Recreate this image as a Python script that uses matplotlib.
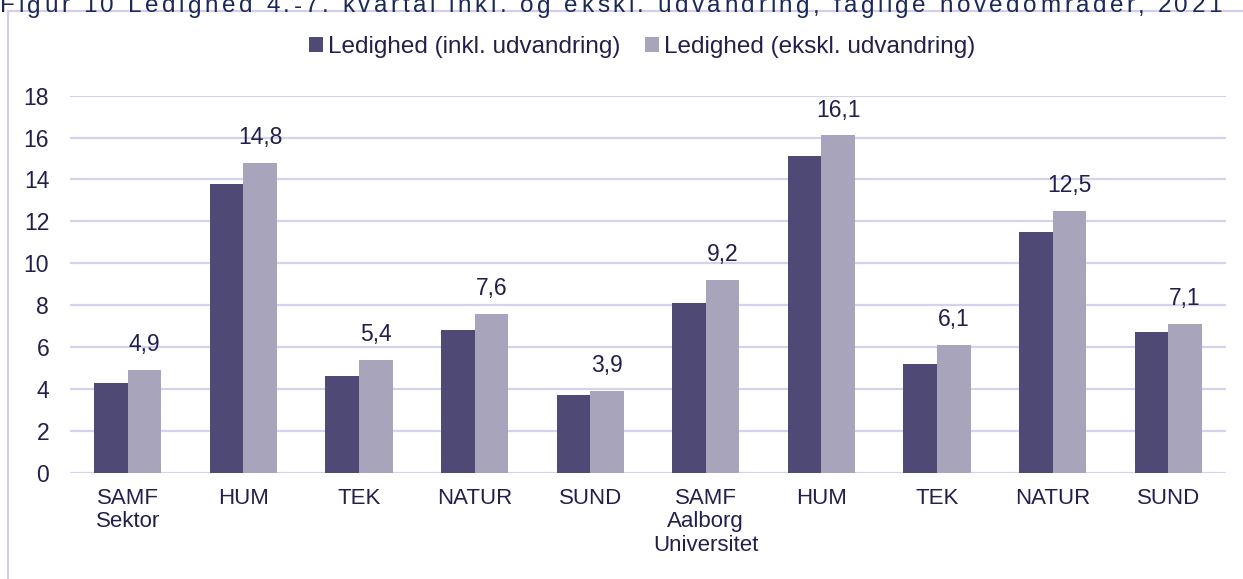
import matplotlib.pyplot as plt
import matplotlib.patches as mpatches
from matplotlib.font_manager import FontProperties
import numpy as np

plt.rcParams["font.family"] = ["Liberation Sans", "DejaVu Sans"]

# data
categories = ["SAMF\nSektor", "HUM", "TEK", "NATUR", "SUND",
              "SAMF\nAalborg\nUniversitet", "HUM", "TEK", "NATUR", "SUND"]
inkl = [4.3, 13.8, 4.6, 6.8, 3.7, 8.1, 15.1, 5.2, 11.5, 6.7]
ekskl = [4.9, 14.8, 5.4, 7.6, 3.9, 9.2, 16.1, 6.1, 12.5, 7.1]
series_names = ["Ledighed (inkl. udvandring)", "Ledighed (ekskl. udvandring)"]
yticks = [0, 2, 4, 6, 8, 10, 12, 14, 16, 18]

title = ("Figur 10 Ledighed 4.-7. kvartal inkl. og ekskl. udvandring, "
         "faglige hovedområder, 2021")

DARK = "#4f4976"
LIGHT = "#a8a4bb"
TEXT = "#231f4d"
GRID = "#d5d2f0"
FRAME = "#d2cfee"

W, H = 1243, 579
fig = plt.figure(figsize=(W / 100, H / 100), dpi=100)

# outer frame (right and bottom edges run off the picture)
fig.patches.append(mpatches.Rectangle(
    (7.5 / W, -0.2), 1.2, 1.2 - 10.5 / H, transform=fig.transFigure,
    fill=False, edgecolor=FRAME, linewidth=1.6))

# caption with wide letter spacing, cut off at the top like the source
renderer = fig.canvas.get_renderer()
fp = FontProperties(family="Liberation Sans", size=17.5)
natural, _, _ = renderer.get_text_width_height_descent(title, fp, ismath=False)
tracking = (1222 - natural) / (len(title) - 1)
for i, ch in enumerate(title):
    if ch == " ":
        continue
    px = 0.0
    if i:
        px, _, _ = renderer.get_text_width_height_descent(title[:i], fp, ismath=False)
    fig.text((px + i * tracking) / W, 1 - 12.5 / H, ch, ha="left", va="baseline",
             fontproperties=fp, color="#1b2858")

ax = fig.add_axes([70 / W, (H - 472.7) / H, (1226 - 70) / W, (472.7 - 95.7) / H])

x = np.arange(len(categories))
bw = 0.29
b1 = ax.bar(x - bw / 2, inkl, bw, color=DARK, label=series_names[0], zorder=3)
b2 = ax.bar(x + bw / 2, ekskl, bw, color=LIGHT, label=series_names[1], zorder=3)

for xi, v in zip(x, ekskl):
    ax.annotate(f"{v:.1f}".replace(".", ","), (xi + bw / 2, v),
                xytext=(0, 10), textcoords="offset points",
                ha="center", va="bottom", fontsize=16.5, color=TEXT)

ax.set_xlim(-0.5, len(categories) - 0.5)
ax.set_ylim(0, 18)
ax.set_yticks(yticks)
ax.set_yticklabels([str(t) for t in yticks], fontsize=16.5, color=TEXT)
ax.set_xticks(x)
ax.set_xticklabels(categories, fontsize=16, color=TEXT, linespacing=1.15)
ax.tick_params(axis="both", length=0)
ax.tick_params(axis="y", pad=15)
ax.tick_params(axis="x", pad=11)
ax.yaxis.grid(True, color=GRID, linewidth=1.6, zorder=0)
ax.set_axisbelow(True)
for s in ax.spines.values():
    s.set_visible(False)

fig.legend(handles=[b1, b2], loc="center", bbox_to_anchor=(642 / W, 1 - 47 / H),
           ncol=2, frameon=False, fontsize=17.5, handlelength=0.6, handleheight=0.6,
           handletextpad=0.2, columnspacing=1.0, labelcolor=TEXT)

fig.savefig("out.png", dpi=100)
